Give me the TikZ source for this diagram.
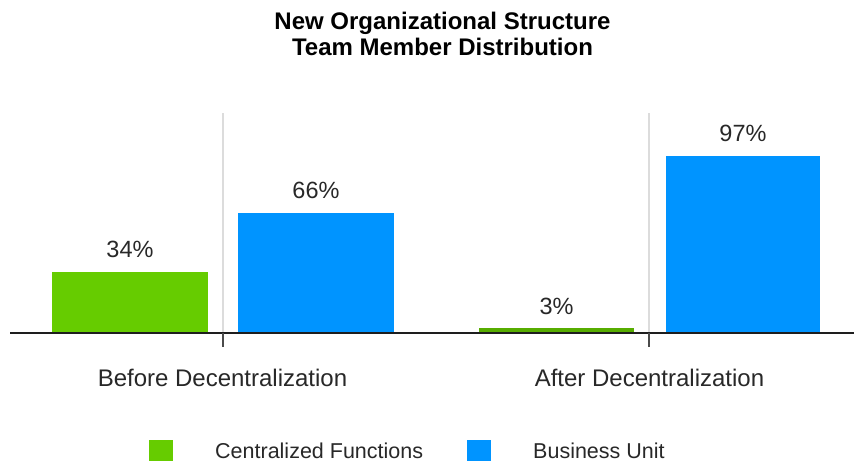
\documentclass[tikz,border=0pt]{standalone}
\usepackage{fontspec}
\setmainfont{Liberation Sans}
\definecolor{cgreen}{RGB}{102,204,0}
\definecolor{cblue}{RGB}{0,148,255}
\definecolor{axisc}{RGB}{30,30,30}
\definecolor{gridc}{RGB}{220,220,220}
\definecolor{textc}{RGB}{40,40,40}
\tikzset{
  titletext/.style={anchor=base,inner sep=0pt,font=\fontsize{24}{28}\selectfont\bfseries,text=black},
  pcttext/.style={anchor=base,inner sep=0pt,font=\fontsize{23.5}{28}\selectfont,text=textc},
  cattext/.style={anchor=base,inner sep=0pt,font=\fontsize{24}{28}\selectfont,text=textc},
  legtext/.style={anchor=base west,inner sep=0pt,font=\fontsize{21.5}{26}\selectfont,text=textc},
  gridline/.style={draw=gridc,line width=1.5pt},
  tickline/.style={draw=axisc!80,line width=1.2pt},
  axisline/.style={draw=axisc,line width=2pt},
}
\begin{document}
\begin{tikzpicture}[x=1pt,y=-1pt]
\useasboundingbox[fill=white] (0,0) rectangle (854,461);
% title
\node[titletext] (t1) at (442.5,29) {New Organizational Structure};
\node[titletext] (t2) at (442.5,55) {Team Member Distribution};
% grid lines and ticks
\coordinate (g1top) at (223,113);
\coordinate (g1bot) at (223,333);
\coordinate (g1tick) at (223,347);
\coordinate (g2top) at (649,113);
\coordinate (g2bot) at (649,333);
\coordinate (g2tick) at (649,347);
\draw[gridline] (g1top) -- (g1bot);
\draw[gridline] (g2top) -- (g2bot);
% bars
\fill[cgreen] (52,272) rectangle (208,333);
\fill[cblue] (238,213) rectangle (394,333);
\fill[cgreen!85!black] (479,327.5) rectangle (634,333);
\fill[cblue] (666,156) rectangle (820,333);
% axis
\coordinate (axL) at (10,333);
\coordinate (axR) at (854,333);
\draw[axisline] (axL) -- (axR);
\draw[tickline] (g1bot) -- (g1tick);
\draw[tickline] (g2bot) -- (g2tick);
% value labels
\node[pcttext] (p1) at (130,257) {34\%};
\node[pcttext] (p2) at (316,198) {66\%};
\node[pcttext] (p3) at (556.5,314) {3\%};
\node[pcttext] (p4) at (743,141) {97\%};
% category labels
\node[cattext] (c1) at (222.5,386) {Before Decentralization};
\node[cattext] (c2) at (649.5,386) {After Decentralization};
% legend
\fill[cgreen] (149,440) rectangle (173,461);
\node[legtext] (l1) at (215,458) {Centralized Functions};
\fill[cblue] (467,440) rectangle (491,461);
\node[legtext] (l2) at (533,458) {Business Unit};
\end{tikzpicture}
\end{document}
